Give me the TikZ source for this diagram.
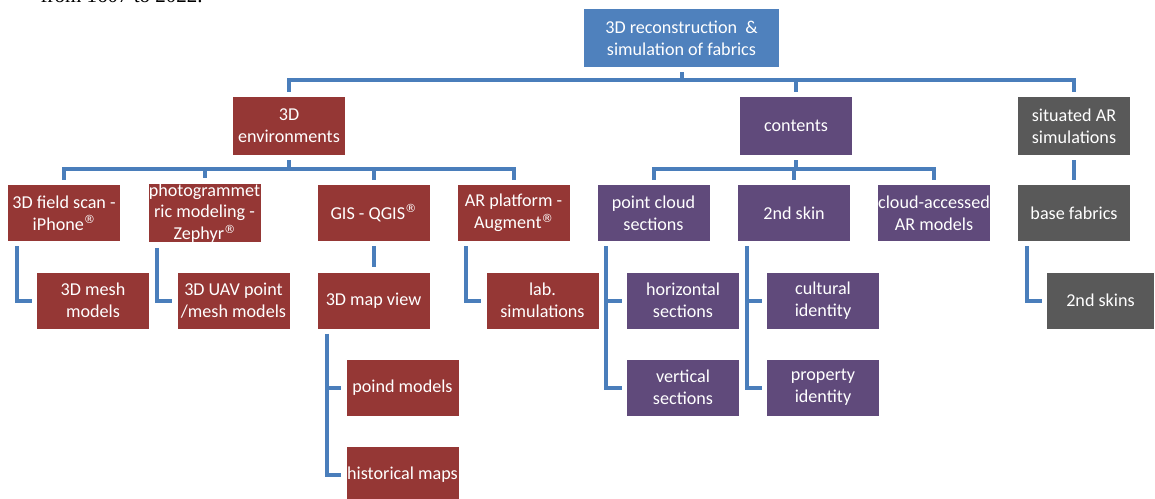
\documentclass[tikz,border=0pt]{standalone}
\usepackage{fontspec}
\setmainfont{Carlito}
\newfontfamily\capfont{Liberation Serif}
\newfontfamily\symfont{DejaVu Sans}
\usetikzlibrary{calc}
\definecolor{rootblue}{HTML}{4F81BD}
\definecolor{envred}{HTML}{953735}
\definecolor{contpurple}{HTML}{604A7B}
\definecolor{sitgray}{HTML}{595959}
\definecolor{linkblue}{HTML}{4A7EBB}
\newcommand{\regmk}{\raisebox{0.75ex}{\symfont\fontsize{8.5pt}{8.5pt}\selectfont ®}}
\tikzset{
  box/.style={inner sep=0pt, text=white, align=center,
    font=\fontsize{13.6pt}{16.3pt}\selectfont,
    minimum width=84pt, minimum height=42pt},
  rootbox/.style={box, fill=rootblue, minimum width=146pt, minimum height=43.5pt},
  redbox/.style={box, fill=envred},
  purplebox/.style={box, fill=contpurple},
  graybox/.style={box, fill=sitgray},
  link/.style={draw=linkblue, line width=3pt, line join=miter}
}
\begin{document}
\begin{tikzpicture}[x=0.75pt,y=-0.75pt]
\useasboundingbox (0,0) rectangle (1155,499);
% clipped caption line of the page above
\node[anchor=base east, inner sep=0pt, font=\capfont\fontsize{15.75pt}{18pt}\selectfont] (cap) at (203,3) {from 1607 to 2022.};
% level 0
\node[rootbox] (root) at (681.5,38) {3D reconstruction \ \&\\simulation of fabrics};
% level 1
\node[redbox, minimum height=43.5pt] (env) at (289,126) {3D\\environments};
\node[purplebox, minimum height=43.5pt] (cont) at (796,126) {contents};
\node[graybox, minimum height=43.5pt] (sit) at (1074,126) {situated AR\\simulations};
% level 2
\node[redbox] (fs) at (64,213) {3D field scan -\\iPhone\regmk};
\node[redbox] (ph) at (204.5,213) {photogrammet\\ric modeling -\\Zephyr\regmk};
\node[redbox] (gis) at (373.5,213) {GIS - QGIS\regmk};
\node[redbox] (ar) at (513.5,213) {AR platform -\\Augment\regmk};
\node[purplebox] (pc) at (653.5,213) {point cloud\\sections};
\node[purplebox] (sk) at (794,213) {2nd skin};
\node[purplebox] (ca) at (934,213) {cloud-accessed\\AR models};
\node[graybox] (bf) at (1074,213) {base fabrics};
% level 3
\node[redbox] (mesh) at (93,300.5) {3D mesh\\models};
\node[redbox] (uav) at (233.5,300.5) {3D UAV point\\/mesh models};
\node[redbox] (map) at (373.5,300.5) {3D map view};
\node[redbox] (lab) at (542.5,300.5) {lab.\\simulations};
\node[purplebox] (hor) at (683,300.5) {horizontal\\sections};
\node[purplebox] (cul) at (823,300.5) {cultural\\identity};
\node[graybox, minimum width=80.25pt] (skins) at (1100.5,300.5) {2nd skins};
% level 4
\node[purplebox] (vert) at (683,387.5) {vertical\\sections};
\node[purplebox] (prop) at (823,387.5) {property\\identity};
\node[redbox] (poind) at (402.5,387.5) {poind models};
\node[redbox] (hist) at (402.5,475) {historical maps};
% buses
\draw[link] ($(root.south)+(0,5)$) -- ($(root.south)+(0,13)$) -| ($(env.north)+(0,-5)$);
\draw[link] ($(root.south)+(0,13)$) -| ($(cont.north)+(0,-5)$);
\draw[link] ($(root.south)+(0,13)$) -| ($(sit.north)+(0,-5)$);
\draw[link] ($(env.south)+(0,5)$) -- ($(env.south)+(0,14)$) -| ($(fs.north)+(0,-5)$);
\draw[link] ($(env.south)+(0,14)$) -| ($(ph.north)+(0,-5)$);
\draw[link] ($(env.south)+(0,14)$) -| ($(gis.north)+(0,-5)$);
\draw[link] ($(env.south)+(0,14)$) -| ($(ar.north)+(0,-5)$);
\draw[link] ($(cont.south)+(0,5)$) -- ($(cont.south)+(0,14)$) -| ($(pc.north)+(0,-5)$);
\draw[link] ($(cont.south)+(0,14)$) -| ($(sk.north)+(0,-5)$);
\draw[link] ($(cont.south)+(0,14)$) -| ($(ca.north)+(0,-5)$);
\draw[link] ($(sit.south)+(0,5)$) -- ($(bf.north)+(0,-5)$);
\draw[link] ($(gis.south)+(0,5)$) -- ($(map.north)+(0,-5)$);
% elbows
\draw[link] ($(fs.south west)+(9,5)$) |- ($(mesh.west)+(-5,0)$);
\draw[link] ($(ph.south west)+(9,5)$) |- ($(uav.west)+(-5,0)$);
\draw[link] ($(ar.south west)+(9,5)$) |- ($(lab.west)+(-5,0)$);
\draw[link] ($(pc.south west)+(9,5)$) |- ($(vert.west)+(-5,0)$);
\draw[link] ($(pc.south west)+(9,5)$) |- ($(hor.west)+(-5,0)$);
\draw[link] ($(sk.south west)+(9,5)$) |- ($(prop.west)+(-5,0)$);
\draw[link] ($(sk.south west)+(9,5)$) |- ($(cul.west)+(-5,0)$);
\draw[link] ($(bf.south west)+(9,5)$) |- ($(skins.west)+(-5,0)$);
\draw[link] ($(map.south west)+(10,5)$) |- ($(hist.west)+(-5,0)$);
\draw[link] ($(map.south west)+(10,5)$) |- ($(poind.west)+(-5,0)$);
\end{tikzpicture}
\end{document}
